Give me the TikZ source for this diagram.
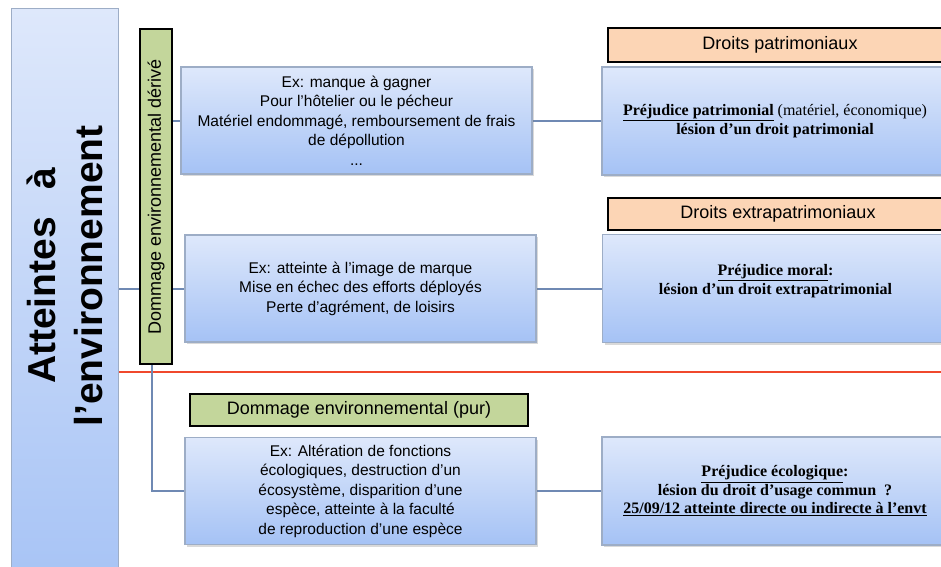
\documentclass[tikz,border=0pt]{standalone}
\usepackage{fontspec}
\setmainfont{Liberation Serif}
\setsansfont{Liberation Sans}
\usepackage{tikz}
\usetikzlibrary{shadows,positioning,calc,backgrounds}
\definecolor{boxtop}{HTML}{DEE8FB}
\definecolor{boxbot}{HTML}{A5C2F5}
\definecolor{boxline}{HTML}{9DADC6}
\definecolor{olivefill}{HTML}{C3D69B}
\definecolor{peachfill}{HTML}{FCD5B5}
\definecolor{wire}{HTML}{6F89B3}
\definecolor{redline}{HTML}{F0482C}
\tikzset{
  exbox/.style={draw=boxline, line width=1.2pt, top color=boxtop, bottom color=boxbot,
    drop shadow={opacity=0.3, shadow xshift=2pt, shadow yshift=-2pt},
    inner sep=0pt, align=center, minimum width=351, minimum height=107,
    font=\sffamily\fontsize{15.5}{19.5}\selectfont},
  prejbox/.style={exbox, minimum width=346, minimum height=108,
    font=\rmfamily\bfseries\fontsize{16}{18.5}\selectfont},
  tagbox/.style={draw=black, line width=1.3pt, inner sep=0pt,
    font=\sffamily\fontsize{18}{21}\selectfont},
  wireline/.style={draw=wire, line width=2pt},
}
\begin{document}
\begin{tikzpicture}[x=1pt,y=-1pt]
    \useasboundingbox (0,0) rectangle (941,566);
    \node[draw=boxline, line width=1.2pt, top color=boxtop, bottom color=boxbot, anchor=north west,
      inner sep=0pt, minimum width=107, minimum height=600] (cadre) at (11,8) {};
    \node[rotate=90, anchor=base, align=center, font=\sffamily\bfseries\fontsize{39}{47}\selectfont]
      (titre) at (102,276) {Atteintes\hspace{0.7em}à\\l’environnement};
    \node[tagbox, fill=olivefill, rotate=90, minimum width=335, minimum height=32] (derive) at (156,196.5)
      {Dommage environnemental dérivé};
    \node[tagbox, fill=olivefill, minimum width=338, minimum height=32] (pur) at (359,410)
      {Dommage environnemental (pur)};
    \node[tagbox, fill=peachfill, minimum width=344, minimum height=34] (droits1) at (780,45)
      {Droits patrimoniaux};
    \node[tagbox, fill=peachfill, minimum width=340, minimum height=32] (droits2) at (778,214)
      {Droits extrapatrimoniaux};
    \node[exbox] (ex1) at (356.5,120.5)
      {Ex: manque à gagner\\Pour l’hôtelier ou le pécheur\\Matériel endommagé, remboursement de frais\\de dépollution\\...};
    \node[exbox] (ex2) at (360.5,288.5)
      {Ex: atteinte à l’image de marque\\Mise en échec des efforts déployés\\Perte d’agrément, de loisirs};
    \node[exbox] (ex3) at (360.5,491)
      {Ex: Altération de fonctions\\écologiques, destruction d’un\\écosystème, disparition d’une\\espèce, atteinte à la faculté\\de reproduction d’une espèce};
    \node[prejbox] (prej1) at (775,121)
      {\underline{Préjudice patrimonial} {\mdseries(matériel, économique)}\\lésion d’un droit patrimonial};
    \node[prejbox] (prej2) at (775.5,288.5)
      {\underline{Préjudice moral}:\\lésion d’un droit extrapatrimonial\\\mbox{}};
    \node[prejbox] (prej3) at (775,491)
      {\underline{Préjudice écologique}:\\lésion du droit d’usage commun ~?\\\underline{25/09/12 atteinte directe ou indirecte à l’envt}};
    \coordinate (sep) at (945,372);
    \begin{scope}[on background layer]
    \draw[wireline] (cadre.east |- ex2.west) -- (ex2.west);
    \draw[draw=redline, line width=1.5pt] (cadre.east |- sep) -- (sep);
    \draw[wireline] ([xshift=-4pt]derive.west) |- (ex3.west);
    \draw[wireline] (derive.center |- ex1.west) -- (ex1.west);
    \draw[wireline] (ex1.east) -- (ex1.east -| prej1.west);
    \draw[wireline] (ex2.east) -- (ex2.east -| prej2.west);
    \draw[wireline] (ex3.east) -- (ex3.east -| prej3.west);
    \end{scope}
\end{tikzpicture}
\end{document}
